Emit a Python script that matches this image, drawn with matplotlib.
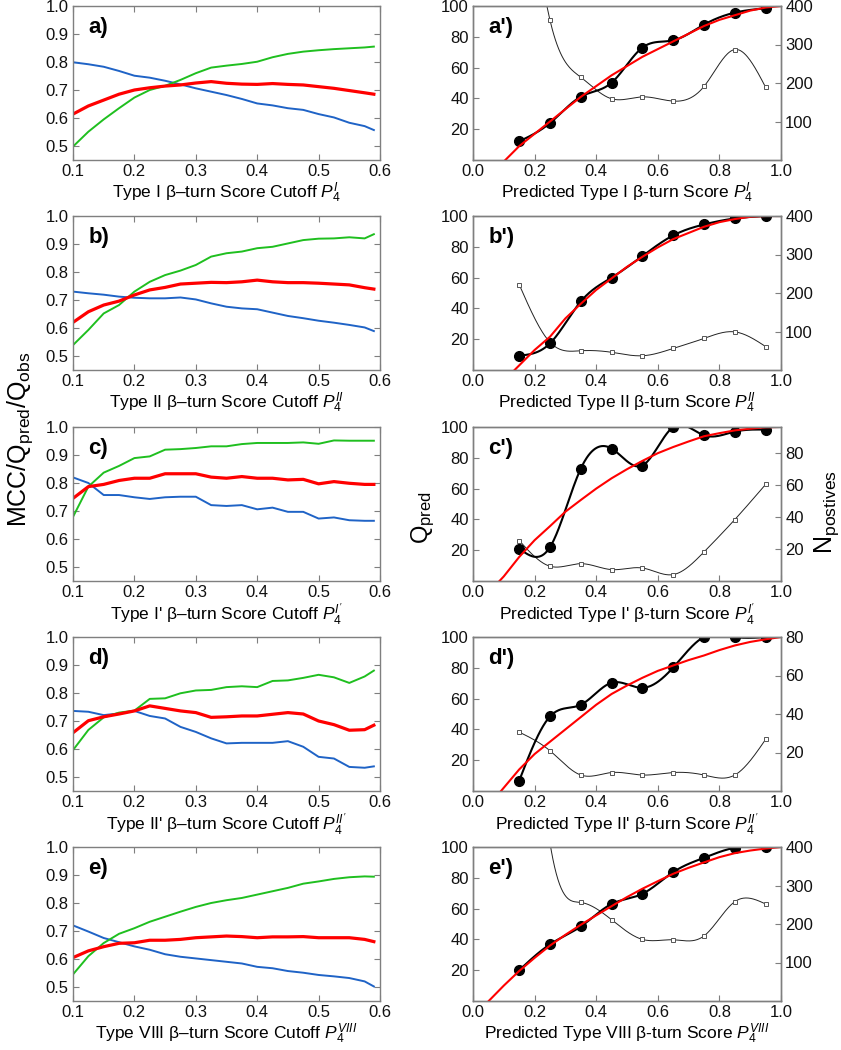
import numpy as np
import matplotlib
matplotlib.use("Agg")
import matplotlib.pyplot as plt

plt.rcParams['font.family'] = ['Liberation Sans', 'DejaVu Sans']
plt.rcParams['mathtext.fontset'] = 'custom'
plt.rcParams['mathtext.rm'] = 'Liberation Sans'
plt.rcParams['mathtext.it'] = 'Liberation Sans:italic'

# ---------------- left column: MCC / Qpred / Qobs vs cutoff ----------------
cutoff = [0.100, 0.125, 0.150, 0.175, 0.200, 0.225, 0.250, 0.275, 0.300, 0.325,
          0.350, 0.375, 0.400, 0.425, 0.450, 0.475, 0.500, 0.525, 0.550, 0.575, 0.590]

blue_a = [0.799, 0.792, 0.783, 0.768, 0.751, 0.744, 0.733, 0.720, 0.706, 0.694,
          0.682, 0.668, 0.652, 0.645, 0.635, 0.629, 0.614, 0.602, 0.583, 0.571, 0.557]
green_a = [0.498, 0.551, 0.595, 0.635, 0.673, 0.700, 0.715, 0.736, 0.760, 0.780,
           0.787, 0.793, 0.801, 0.817, 0.829, 0.837, 0.842, 0.846, 0.849, 0.852, 0.855]
red_a = [0.614, 0.643, 0.664, 0.685, 0.700, 0.708, 0.714, 0.718, 0.725, 0.730,
         0.724, 0.721, 0.720, 0.723, 0.720, 0.718, 0.712, 0.706, 0.698, 0.690, 0.685]

blue_b = [0.730, 0.724, 0.719, 0.712, 0.708, 0.706, 0.706, 0.709, 0.702, 0.688,
          0.676, 0.670, 0.667, 0.655, 0.643, 0.635, 0.626, 0.619, 0.611, 0.602, 0.589]
green_b = [0.539, 0.593, 0.652, 0.682, 0.730, 0.765, 0.789, 0.805, 0.825, 0.855,
           0.867, 0.873, 0.885, 0.890, 0.902, 0.914, 0.919, 0.920, 0.924, 0.920, 0.935]
red_b = [0.620, 0.658, 0.682, 0.696, 0.718, 0.736, 0.745, 0.757, 0.760, 0.763,
         0.762, 0.765, 0.771, 0.765, 0.762, 0.762, 0.760, 0.757, 0.754, 0.744, 0.739]

blue_c = [0.820, 0.800, 0.757, 0.757, 0.749, 0.743, 0.749, 0.751, 0.751, 0.721,
          0.718, 0.721, 0.706, 0.712, 0.697, 0.697, 0.673, 0.677, 0.667, 0.665, 0.665]
green_c = [0.679, 0.787, 0.837, 0.861, 0.889, 0.895, 0.919, 0.921, 0.925, 0.931,
           0.931, 0.939, 0.943, 0.943, 0.943, 0.945, 0.940, 0.952, 0.951, 0.951, 0.951]
red_c = [0.745, 0.787, 0.795, 0.809, 0.817, 0.817, 0.833, 0.833, 0.833, 0.821,
         0.817, 0.823, 0.817, 0.817, 0.811, 0.813, 0.797, 0.805, 0.799, 0.795, 0.795]

blue_d = [0.736, 0.733, 0.721, 0.727, 0.736, 0.718, 0.709, 0.679, 0.661, 0.638,
          0.620, 0.622, 0.622, 0.622, 0.628, 0.608, 0.572, 0.566, 0.536, 0.533, 0.538]
green_d = [0.596, 0.668, 0.713, 0.730, 0.737, 0.779, 0.781, 0.799, 0.809, 0.811,
           0.821, 0.824, 0.821, 0.843, 0.845, 0.854, 0.865, 0.856, 0.836, 0.859, 0.880]
red_d = [0.658, 0.701, 0.715, 0.725, 0.736, 0.754, 0.745, 0.736, 0.730, 0.713,
         0.715, 0.718, 0.718, 0.724, 0.730, 0.725, 0.700, 0.687, 0.667, 0.669, 0.685]

blue_e = [0.720, 0.698, 0.675, 0.660, 0.645, 0.633, 0.617, 0.608, 0.602, 0.596,
          0.590, 0.584, 0.572, 0.567, 0.557, 0.551, 0.543, 0.538, 0.532, 0.520, 0.502]
green_e = [0.545, 0.610, 0.657, 0.690, 0.710, 0.733, 0.751, 0.769, 0.786, 0.800,
           0.810, 0.818, 0.830, 0.842, 0.854, 0.869, 0.877, 0.886, 0.892, 0.895, 0.894]
red_e = [0.605, 0.629, 0.644, 0.656, 0.658, 0.667, 0.667, 0.670, 0.676, 0.679,
         0.682, 0.680, 0.676, 0.679, 0.679, 0.680, 0.676, 0.676, 0.676, 0.670, 0.662]

left_labels = ['a)', 'b)', 'c)', 'd)', 'e)']
left_xlabels = ["Type I β–turn Score Cutoff $P_4^{I}$",
                "Type II β–turn Score Cutoff $P_4^{II}$",
                "Type I' β–turn Score Cutoff $P_4^{I'}$",
                "Type II' β–turn Score Cutoff $P_4^{II'}$",
                "Type VIII β–turn Score Cutoff $P_4^{VIII}$"]

# ---------------- right column: Qpred and N positives vs predicted score ----------------
score = [0.15, 0.25, 0.35, 0.45, 0.55, 0.65, 0.75, 0.85, 0.95]

qpred_a = [12.1, 24.0, 41.1, 50.2, 73.0, 77.7, 87.9, 95.7, 98.5]
qpred_b = [9.3, 17.3, 44.5, 60.0, 74.0, 87.4, 94.5, 98.4, 100.0]
qpred_c = [21.0, 22.0, 73.0, 86.0, 75.0, 100.0, 94.6, 97.0, 98.3]
qpred_d = [6.7, 48.4, 56.0, 70.3, 67.0, 80.2, 100.0, 100.0, 100.0]
qpred_e = [20.0, 36.8, 48.4, 63.0, 69.6, 83.7, 93.0, 99.5, 100.0]

npos_a = [900, 363, 215, 159, 164, 153, 191, 287, 189]
npos_b = [222, 72, 50, 46, 37, 56, 82, 99, 61]
npos_c = [25.2, 9.2, 10.8, 7.1, 8.1, 4.0, 18.1, 38.3, 60.2]
npos_d = [30.6, 20.9, 8.3, 9.6, 8.3, 9.6, 8.3, 8.3, 26.8]
npos_e = [1250, 410, 256, 211, 160, 159, 169, 258, 252]

fit_x_a = [0.105, 0.15, 0.2, 0.25, 0.3, 0.35, 0.4, 0.45, 0.5, 0.55, 0.6, 0.65, 0.7, 0.75, 0.8, 0.85, 0.9, 0.95, 1.0]
fit_y_a = [0, 9, 17, 25, 33, 41, 48, 55, 61, 67, 72, 77, 82, 87, 91, 94, 97, 99, 100]
fit_x_b = [0.135, 0.2, 0.25, 0.3, 0.35, 0.4, 0.45, 0.5, 0.55, 0.6, 0.65, 0.7, 0.75, 0.8, 0.85, 0.9, 0.95, 1.0]
fit_y_b = [0, 13, 21.6, 33.5, 43, 52, 59.5, 67, 73.5, 79.6, 85, 89, 93, 96, 98, 99.5, 100, 100]
fit_x_c = [0.086, 0.1, 0.15, 0.2, 0.25, 0.3, 0.35, 0.4, 0.45, 0.5, 0.55, 0.6, 0.65, 0.7, 0.75, 0.8, 0.85, 0.9, 0.95, 0.99]
fit_y_c = [0, 3, 15.6, 26.5, 35.6, 45, 52.6, 60, 66.7, 72.6, 78, 83, 87, 90.6, 94, 96, 97.8, 98.9, 99.8, 100]
fit_x_d = [0.091, 0.15, 0.2, 0.25, 0.3, 0.35, 0.4, 0.45, 0.5, 0.55, 0.6, 0.65, 0.7, 0.75, 0.8, 0.85, 0.9, 0.95, 1.0]
fit_y_d = [0, 14, 24, 32, 40, 48, 56, 63, 68.5, 73.5, 78, 81.5, 85, 88, 91.5, 94.5, 96.8, 98.5, 100]
fit_x_e = [0.051, 0.1, 0.15, 0.2, 0.25, 0.3, 0.35, 0.4, 0.45, 0.5, 0.55, 0.6, 0.65, 0.7, 0.75, 0.8, 0.85, 0.9, 0.95, 1.0]
fit_y_e = [0, 10, 19.5, 28, 36, 43, 49.5, 55.6, 61.6, 67.5, 72.9, 77.8, 82.6, 86.5, 90, 93.4, 96, 97.7, 99, 100]

right_labels = ["a')", "b')", "c')", "d')", "e')"]
right_xlabels = ["Predicted Type I β-turn Score $P_4^{I}$",
                 "Predicted Type II β-turn Score $P_4^{II}$",
                 "Predicted Type I' β-turn Score $P_4^{I'}$",
                 "Predicted Type II' β-turn Score $P_4^{II'}$",
                 "Predicted Type VIII β-turn Score $P_4^{VIII}$"]
npos_lim = [400, 400, 96, 80, 400]
npos_ticks = [[100, 200, 300, 400], [100, 200, 300, 400], [20, 40, 60, 80],
              [20, 40, 60, 80], [100, 200, 300, 400]]

BLUE = '#1f63c6'
GREEN = '#1fbf1f'
RED = '#ff0000'
FRAME = '#7f7f7f'


def smooth(x, y, n=300):
    # natural cubic spline through the points (display only, like Origin's spline connect)
    x = np.asarray(x, float)
    y = np.asarray(y, float)
    h = np.diff(x)
    m = len(x)
    A = np.zeros((m, m))
    r = np.zeros(m)
    A[0, 0] = A[-1, -1] = 1
    for i in range(1, m - 1):
        A[i, i - 1] = h[i - 1]
        A[i, i] = 2 * (h[i - 1] + h[i])
        A[i, i + 1] = h[i]
        r[i] = 6 * ((y[i + 1] - y[i]) / h[i] - (y[i] - y[i - 1]) / h[i - 1])
    M = np.linalg.solve(A, r)
    xs = np.linspace(x[0], x[-1], n)
    k = np.clip(np.searchsorted(x, xs) - 1, 0, m - 2)
    t1 = x[k + 1] - xs
    t0 = xs - x[k]
    ys = (M[k] * t1 ** 3 + M[k + 1] * t0 ** 3) / (6 * h[k]) \
        + (y[k] / h[k] - M[k] * h[k] / 6) * t1 + (y[k + 1] / h[k] - M[k + 1] * h[k] / 6) * t0
    return xs, ys


def style(ax):
    for s in ax.spines.values():
        s.set_color(FRAME)
        s.set_linewidth(1.0)
    ax.tick_params(direction='in', length=4, width=0.8, color=FRAME,
                   labelsize=12, pad=3, labelcolor='#111111')


fig = plt.figure(figsize=(8.41, 10.5), dpi=100)

left_data = [(blue_a, green_a, red_a), (blue_b, green_b, red_b), (blue_c, green_c, red_c),
             (blue_d, green_d, red_d), (blue_e, green_e, red_e)]
right_data = [(qpred_a, npos_a, fit_x_a, fit_y_a), (qpred_b, npos_b, fit_x_b, fit_y_b),
              (qpred_c, npos_c, fit_x_c, fit_y_c), (qpred_d, npos_d, fit_x_d, fit_y_d),
              (qpred_e, npos_e, fit_x_e, fit_y_e)]

tops = [6, 216, 427, 637, 847]
H = 154 / 1050

for i in range(5):
    bottom = 1 - (tops[i] + 154) / 1050

    # left panel
    ax = fig.add_axes([73 / 841, bottom, 307 / 841, H])
    blue, green, red = left_data[i]
    ax.plot(cutoff, blue, color=BLUE, lw=1.4)
    ax.plot(cutoff, green, color=GREEN, lw=1.4)
    ax.plot(cutoff, red, color=RED, lw=2.3)
    ax.set_xlim(0.1, 0.6)
    ax.set_ylim(0.45, 1.0)
    ax.set_xticks(np.arange(0.1, 0.61, 0.1))
    ax.set_yticks(np.arange(0.5, 1.01, 0.1))
    ax.xaxis.set_major_formatter(plt.FormatStrFormatter('%.1f'))
    ax.yaxis.set_major_formatter(plt.FormatStrFormatter('%.1f'))
    ax.tick_params(top=True, right=True)
    style(ax)
    ax.set_xlabel(left_xlabels[i], fontsize=12.5, labelpad=1)
    ax.text(0.05, 0.93, left_labels[i], transform=ax.transAxes, fontsize=16,
            fontweight='bold', va='top', ha='left')

    # right panel
    axr = fig.add_axes([473 / 841, bottom, 308 / 841, H])
    ax2 = axr.twinx()
    qp, npos, fx, fy = right_data[i]
    sx, sy = smooth(score, npos)
    ax2.plot(sx, sy, color='#222222', lw=0.7)
    ax2.plot(score, npos, ls='none', marker='s', ms=3.2, mfc='white',
             mec='#555555', mew=0.7)
    ax2.set_ylim(0, npos_lim[i])
    ax2.set_yticks(npos_ticks[i])

    bx, by = smooth(score, qp)
    axr.plot(bx, by, color='black', lw=1.5)
    axr.plot(score, qp, ls='none', marker='o', ms=7, color='black')
    axr.plot(fx, fy, color=RED, lw=1.5)
    axr.set_xlim(0, 1)
    axr.set_ylim(0, 100)
    axr.set_xticks(np.arange(0, 1.01, 0.2))
    axr.set_yticks([20, 40, 60, 80, 100])
    axr.xaxis.set_major_formatter(plt.FormatStrFormatter('%.1f'))
    axr.set_zorder(ax2.get_zorder() + 1)
    axr.patch.set_visible(False)
    style(axr)
    style(ax2)
    axr.set_xlabel(right_xlabels[i], fontsize=12.5, labelpad=1)
    axr.text(0.05, 0.93, right_labels[i], transform=axr.transAxes, fontsize=16,
             fontweight='bold', va='top', ha='left')

fig.text(20 / 841, 1 - 439 / 1050, 'MCC/Q$_{\\rm pred}$/Q$_{\\rm obs}$', rotation=90,
         fontsize=18, ha='center', va='center')
fig.text(423 / 841, 1 - 518 / 1050, 'Q$_{\\rm pred}$', rotation=90,
         fontsize=17, ha='center', va='center')
fig.text(827 / 841, 1 - 512 / 1050, 'N$_{\\rm postives}$', rotation=90,
         fontsize=18, ha='center', va='center')

fig.savefig('out.png', dpi=100)
